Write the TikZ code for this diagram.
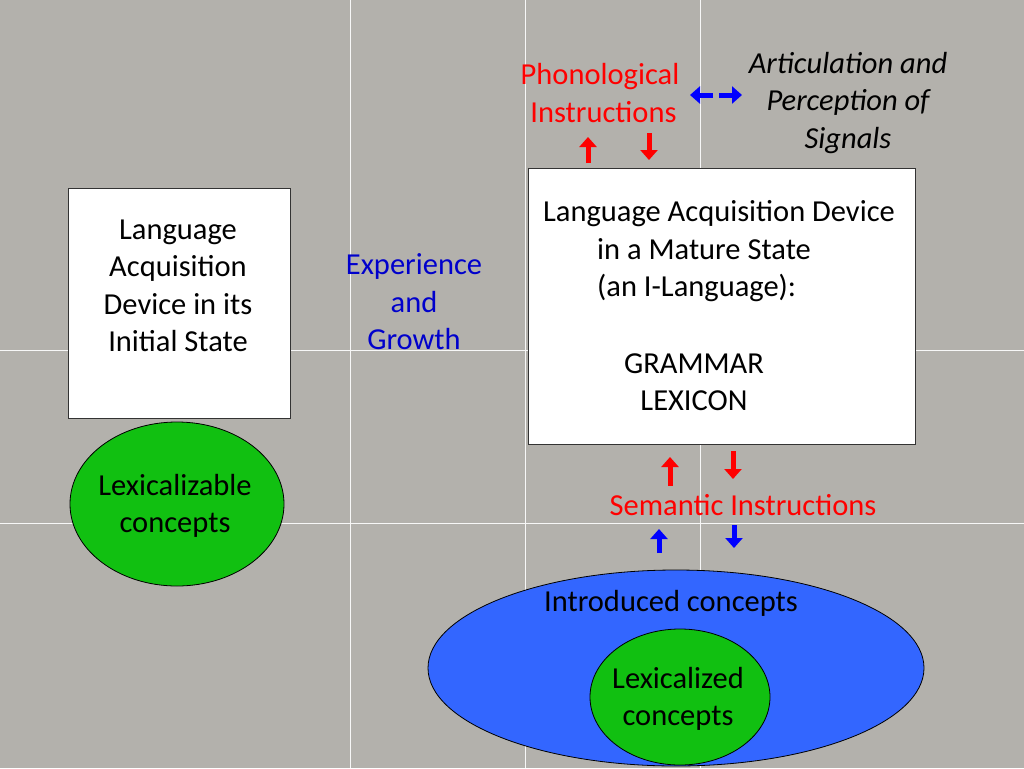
\documentclass[tikz,border=0pt]{standalone}
\usepackage{fontspec}
\setmainfont{Carlito}
\usetikzlibrary{arrows.meta}
\definecolor{bg}{HTML}{B3B1AC}
\definecolor{gr}{HTML}{11C011}
\definecolor{bl}{HTML}{3366FF}
\tikzset{x=1pt,y=-1pt,
 txt/.style={font=\fontsize{30.5}{37.5}\selectfont,align=center,inner sep=0},
 arr/.style={line width=5pt,-{Triangle[width=17pt,length=10pt]}},
 box/.style={draw=black!80,fill=white,line width=0.8pt}}
\begin{document}
\begin{tikzpicture}
\fill[bg] (0,0) rectangle (1024,768);
\useasboundingbox (0,0) rectangle (1024,768);
\foreach \x in {350,525,700} \draw[white!90!bg,line width=0.8pt] (\x,0) -- (\x,768);
\foreach \y in {350,523} \draw[white!90!bg,line width=0.8pt] (0,\y) -- (1024,\y);
\draw[box] (68,188) rectangle (290,418);
\draw[box] (528,168) rectangle (915,444);
\draw[fill=gr,draw=black,line width=0.8pt] (177,504) ellipse [x radius=107,y radius=82];
\draw[fill=bl,draw=black,line width=0.8pt] (676,668) ellipse [x radius=248,y radius=98];
\draw[fill=gr,draw=black,line width=0.8pt] (680,697) ellipse [x radius=90,y radius=68];
\node[txt] (lad) at (178,286) {Language\\Acquisition\\Device in its\\Initial State};
\node[txt] (mat) at (719,214) {Language Acquisition Device};
\node[txt,align=left,anchor=west] (mat2) at (597,270) {in a Mature State\\(an I-Language):};
\node[txt] (gram) at (694,382) {GRAMMAR\\LEXICON};
\node[txt,text=blue!80!black] (exp) at (414,302) {Experience\\and\\Growth};
\node[txt,text=red] (phon) at (600,93) {Phonological\\\ Instructions};
\node[txt,font=\fontsize{30.5}{37.5}\selectfont\itshape] (art) at (848,103) {Articulation and\\Perception of\\Signals};
\node[txt,text=red] (sem) at (743,505) {Semantic Instructions};
\node[txt] (intro) at (671,603) {Introduced concepts};
\node[txt] (lex) at (175,506) {Lexicalizable\\concepts};
\node[txt] (lexd) at (678,699) {Lexicalized\\concepts};
\coordinate (p1a) at (588,163); \coordinate (p1b) at (588,137);
\coordinate (p2a) at (649,133); \coordinate (p2b) at (649,160);
\draw[arr,red] (p1a) -- (p1b);
\draw[arr,red] (p2a) -- (p2b);
\coordinate (b1a) at (713,95); \coordinate (b1b) at (690,95);
\coordinate (b2a) at (719,95); \coordinate (b2b) at (742,95);
\draw[arr,blue] (b1a) -- (b1b);
\draw[arr,blue] (b2a) -- (b2b);
\coordinate (s1a) at (670,486); \coordinate (s1b) at (670,457);
\coordinate (s2a) at (733,451); \coordinate (s2b) at (733,479);
\draw[arr,red] (s1a) -- (s1b);
\draw[arr,red] (s2a) -- (s2b);
\coordinate (t1a) at (659,553); \coordinate (t1b) at (659,529);
\coordinate (t2a) at (734,525); \coordinate (t2b) at (734,548);
\draw[arr,blue] (t1a) -- (t1b);
\draw[arr,blue] (t2a) -- (t2b);
\end{tikzpicture}
\end{document}
